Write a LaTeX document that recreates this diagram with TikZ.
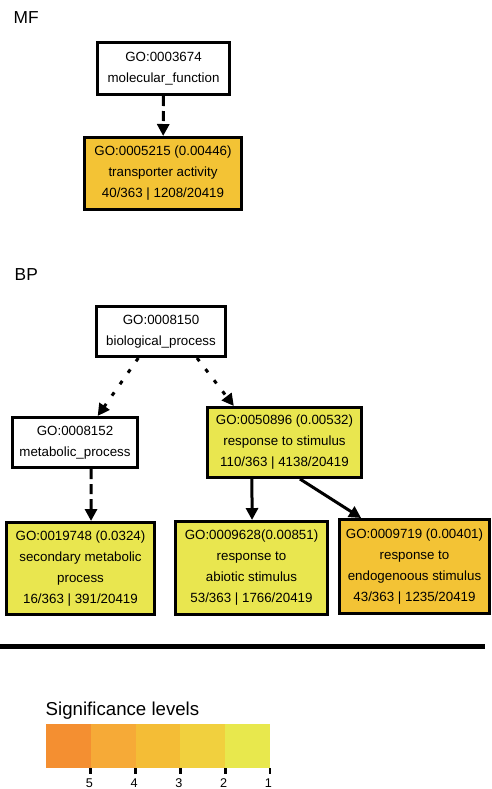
\documentclass[tikz,border=0pt]{standalone}
\usepackage{fontspec}
\setmainfont{Liberation Sans}
\usetikzlibrary{arrows.meta}

\definecolor{hitorange}{HTML}{F3C335}
\definecolor{hityellow}{HTML}{E9E64F}
\definecolor{levfive}{HTML}{F48F31}
\definecolor{levfour}{HTML}{F6AA37}
\definecolor{levthree}{HTML}{F4BD36}
\definecolor{levtwo}{HTML}{F1D03E}
\definecolor{levone}{HTML}{E8E84D}

\begin{document}
\begin{tikzpicture}[x=0.75pt,y=-0.75pt,
	goterm/.style={draw,line width=2.25pt,align=center,inner sep=0pt,
		font=\fontsize{10}{15.75}\selectfont},
	isa/.style={->,line width=2.25pt},
	isadash/.style={isa,dash pattern=on 7.5pt off 3.75pt},
	isadot/.style={isa,dash pattern=on 3pt off 7.5pt},
	>={Triangle[length=9pt,width=9pt]}]
	\useasboundingbox (0,0) rectangle (492,789);
	% section titles
	\node[anchor=base west,font=\fontsize{13}{15}\selectfont] (mftitle) at (9,23) {MF};
	\node[anchor=base west,font=\fontsize{13}{15}\selectfont] (bptitle) at (10,280) {BP};
	% MF nodes
	\node[goterm,minimum width=99pt,minimum height=39pt] (mfroot) at (163.5,68.5)
		{GO:0003674\\molecular\_function};
	\node[goterm,fill=hitorange,minimum width=117.75pt,minimum height=54pt] (transp) at (163,173.5)
		{GO:0005215 (0.00446)\\transporter activity\\40/363 | 1208/20419};
	% BP nodes
	\node[goterm,minimum width=96.75pt,minimum height=37.5pt] (bproot) at (161,331.5)
		{GO:0008150\\biological\_process};
	\node[goterm,minimum width=93.75pt,minimum height=37.5pt] (metab) at (75,442.5)
		{GO:0008152\\metabolic\_process};
	\node[goterm,fill=hityellow,minimum width=115.5pt,minimum height=52.5pt] (resp) at (284.5,442.5)
		{GO:0050896 (0.00532)\\response to stimulus\\110/363 | 4138/20419};
	\node[goterm,fill=hityellow,minimum width=111pt,minimum height=69pt] (secmet) at (80.5,568.5)
		{GO:0019748 (0.0324)\\secondary metabolic\\process\\16/363 | 391/20419};
	\node[goterm,fill=hityellow,minimum width=114pt,minimum height=69.75pt] (abiotic) at (251.5,568)
		{GO:0009628(0.00851)\\response to\\abiotic stimulus\\53/363 | 1766/20419};
	\node[goterm,fill=hitorange,minimum width=112.5pt,minimum height=70.5pt] (endo) at (414.5,566.5)
		{GO:0009719 (0.00401)\\response to\\endogenoous stimulus\\43/363 | 1235/20419};
	%
	\path
	% dashed arrows
	(mfroot) edge[isadash] (transp)
	([xshift=12pt]metab.south) edge[isadash] ([xshift=7.9pt]secmet.north)
	% dotted arrows
	([xshift=-17pt]bproot.south) edge[isadot] ([xshift=17pt]metab.north)
	([xshift=27pt]bproot.south) edge[isadot] ([xshift=-38pt]resp.north)
	% solid arrows
	([xshift=-24.4pt]resp.south) edge[isa] ([xshift=0.4pt]abiotic.north)
	([xshift=11.6pt]resp.south) edge[isa] ([xshift=-40pt]endo.north);
	% separator
	\draw[line width=3.5pt] (0,646.5) -- (485,646.5);
	% legend
	\node[anchor=base west,font=\fontsize{14}{16}\selectfont] (legtitle) at (41,715) {Significance levels};
	\foreach \col/\lev [count=\i from 0] in {levfive/5,levfour/4,levthree/3,levtwo/2,levone/1}{
		\fill[\col] (46+44.8*\i,724) rectangle ++(44.8,44);
		\draw[line width=2pt] (90.8+44.8*\i,768) -- ++(0,6);
		\node[anchor=base,font=\fontsize{9.5}{11}\selectfont] (tick\lev) at (89.3+44.8*\i,787) {\lev};
	}
\end{tikzpicture}
\end{document}
